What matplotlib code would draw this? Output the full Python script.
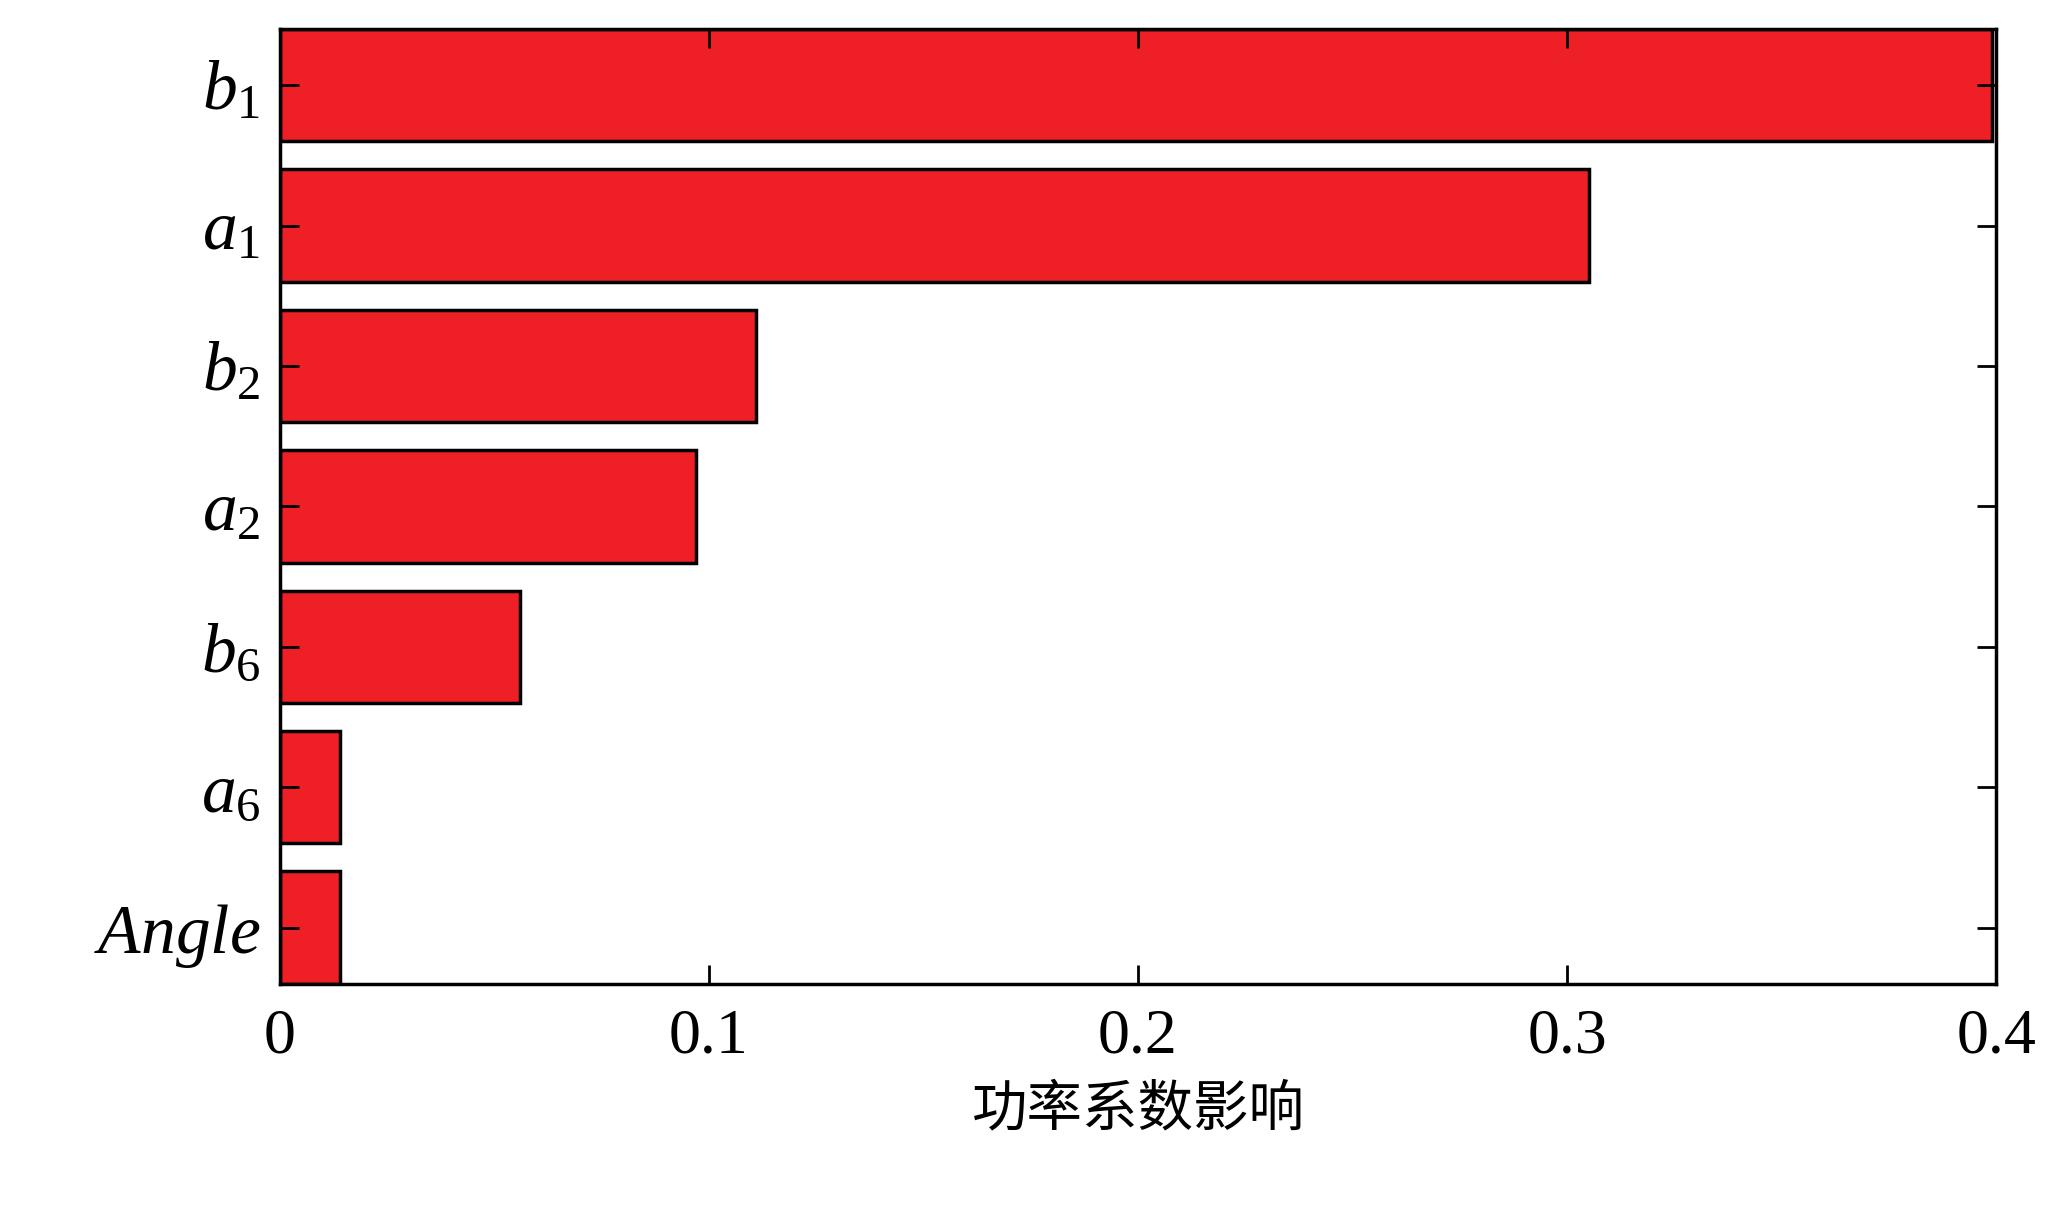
import matplotlib
matplotlib.use("Agg")
import matplotlib.pyplot as plt

labels = [r"$b_1$", r"$a_1$", r"$b_2$", r"$a_2$", r"$b_6$", r"$a_6$", r"$Angle$"]
values = [0.399, 0.305, 0.111, 0.097, 0.056, 0.014, 0.014]
xticks = [0, 0.1, 0.2, 0.3, 0.4]
xticklabels = ["0", "0.1", "0.2", "0.3", "0.4"]

plt.rcParams['font.family'] = ['Liberation Serif', 'Noto Sans CJK SC']
plt.rcParams['mathtext.fontset'] = 'custom'
plt.rcParams['mathtext.it'] = 'Liberation Serif:italic'
plt.rcParams['mathtext.rm'] = 'Liberation Serif'

fig = plt.figure(figsize=(20.56, 12.1), dpi=100)
ax = fig.add_axes([0.136, 0.187, 0.835, 0.789])
ypos = list(range(len(values)))[::-1]
ax.barh(ypos, values, height=0.8, color='#EE1F25', edgecolor='black', linewidth=2.5)
ax.set_xlim(0, 0.4)
ax.set_ylim(-0.4, 6.4)
ax.set_yticks(ypos)
ax.set_yticklabels(labels, fontsize=50)
ax.set_xticks(xticks)
ax.set_xticklabels(xticklabels, fontsize=46)
ax.tick_params(direction='in', top=True, right=True, length=14, width=2)
ax.tick_params(axis='x', pad=18)
ax.tick_params(axis='y', pad=14)
for s in ax.spines.values():
    s.set_linewidth(2.5)
ax.set_xlabel("功率系数影响", fontsize=40, family=['Noto Sans CJK SC'], labelpad=10)
fig.savefig("out.png", dpi=100)
